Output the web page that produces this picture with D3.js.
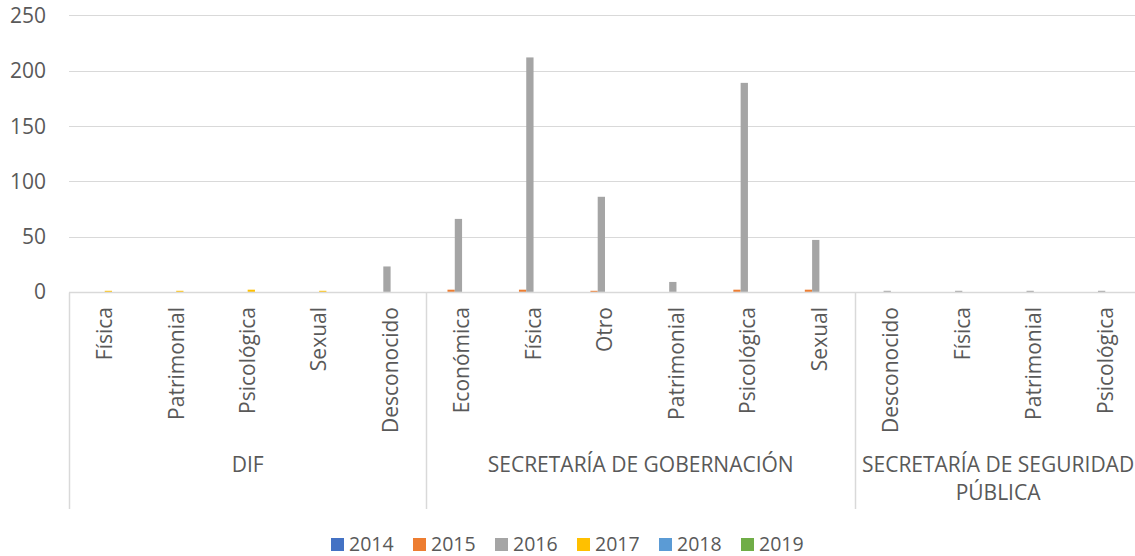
<!DOCTYPE html>
<html>
<head>
<meta charset="utf-8">
<script src="https://cdn.jsdelivr.net/npm/d3@7"></script>
<style>
  html, body { margin: 0; padding: 0; background: #fff; }
  svg { display: block; }
  text { font-family: "Open Sans", "Noto Sans", sans-serif; fill: #595959; }
</style>
</head>
<body>
<svg id="chart" width="1135" height="556"></svg>
<script>
// ---- data ----
const groups = ["DIF", "SECRETARÍA DE GOBERNACIÓN", "SECRETARÍA DE SEGURIDAD PÚBLICA"];
const groupLines = [["DIF"], ["SECRETARÍA DE GOBERNACIÓN"], ["SECRETARÍA DE SEGURIDAD", "PÚBLICA"]];
const categoryGroup = [0, 0, 0, 0, 0, 1, 1, 1, 1, 1, 1, 2, 2, 2, 2];
const categoryLabels = ["Física", "Patrimonial", "Psicológica", "Sexual", "Desconocido",
  "Económica", "Física", "Otro", "Patrimonial", "Psicológica", "Sexual",
  "Desconocido", "Física", "Patrimonial", "Psicológica"];
const years = ["2014", "2015", "2016", "2017", "2018", "2019"];
const colors = ["#4472C4", "#ED7D31", "#A5A5A5", "#FFC000", "#5B9BD5", "#70AD47"];
const v2014 = [0, 0, 0, 0, 0, 0, 0, 0, 0, 0, 0, 0, 0, 0, 0];
const v2015 = [0, 0, 0, 0, 0, 2, 2, 1, 0, 2, 2, 0, 0, 0, 0];
const v2016 = [0, 0, 0, 0, 23, 66, 212, 86, 9, 189, 47, 1, 1, 1, 1];
const v2017 = [1, 1, 2, 1, 0, 0, 0, 0, 0, 0, 0, 0, 0, 0, 0];
const v2018 = [0, 0, 0, 0, 0, 0, 0, 0, 0, 0, 0, 0, 0, 0, 0];
const v2019 = [0, 0, 0, 0, 0, 0, 0, 0, 0, 0, 0, 0, 0, 0, 0];
const seriesValues = [v2014, v2015, v2016, v2017, v2018, v2019];
const yTicks = [0, 50, 100, 150, 200, 250];

// ---- layout ----
const svg = d3.select("#chart");
const pLeft = 69, pRight = 1141, pTop = 15.4, pBase = 291.9;
const grid = "#D9D9D9";
const fs = "21px";

const x = d3.scaleBand().domain(d3.range(categoryLabels.length)).range([pLeft, pRight]).paddingInner(0).paddingOuter(0);
const xi = d3.scaleBand().domain(years).range([0, x.bandwidth()]).paddingInner(0).paddingOuter(1.9);
const y = d3.scaleLinear().domain([0, 250]).range([pBase, pTop]);

// gridlines
svg.append("g").selectAll("line").data(yTicks.filter(t => t > 0)).join("line")
  .attr("x1", pLeft).attr("x2", 1135)
  .attr("y1", d => Math.round(y(d)) + 0.5).attr("y2", d => Math.round(y(d)) + 0.5)
  .attr("stroke", grid).attr("stroke-width", 1);

// y labels
svg.append("g").selectAll("text").data(yTicks).join("text")
  .attr("x", 46).attr("y", d => y(d)).attr("dy", "0.36em")
  .attr("text-anchor", "end").style("font-size", fs).text(d => d);

// bars
const barData = [];
seriesValues.forEach((arr, si) => arr.forEach((v, ci) => { if (v > 0) barData.push({ si, ci, v }); }));
svg.append("g").selectAll("rect").data(barData).join("rect")
  .attr("x", d => x(d.ci) + xi(years[d.si]))
  .attr("width", xi.bandwidth())
  .attr("y", d => y(d.v))
  .attr("height", d => pBase - y(d.v))
  .attr("fill", d => colors[d.si]);

// category axis
const axisY = Math.round(pBase) + 0.5;
svg.append("line").attr("x1", pLeft).attr("x2", 1135).attr("y1", axisY).attr("y2", axisY)
  .attr("stroke", grid).attr("stroke-width", 1.5);

// group separators
const groupStarts = groups.map((g, gi) => categoryGroup.indexOf(gi));
const groupEnds = groups.map((g, gi) => categoryGroup.lastIndexOf(gi));
const sepX = groupStarts.map(i => x(i));
svg.append("g").selectAll("line").data(sepX).join("line")
  .attr("x1", d => Math.round(d) + 0.5).attr("x2", d => Math.round(d) + 0.5)
  .attr("y1", axisY).attr("y2", 509)
  .attr("stroke", grid).attr("stroke-width", 1.5);

// category labels
svg.append("g").selectAll("text").data(categoryLabels).join("text")
  .attr("transform", (d, i) => `translate(${x(i) + x.bandwidth() / 2},307) rotate(-90)`)
  .attr("dy", "0.35em").attr("text-anchor", "end")
  .style("font-size", fs).text(d => d);

// group labels
groups.forEach((g, gi) => {
  const cx = (x(groupStarts[gi]) + x(groupEnds[gi]) + x.bandwidth()) / 2;
  const t = svg.append("text").attr("text-anchor", "middle").style("font-size", fs);
  groupLines[gi].forEach((line, li) => {
    t.append("tspan").attr("x", cx).attr("y", 472 + li * 28).text(line);
  });
});

// legend
const legendX = [331, 413, 495, 577, 659, 741];
const lg = svg.append("g").selectAll("g").data(years).join("g")
  .attr("transform", (d, i) => `translate(${legendX[i]},538)`);
lg.append("rect").attr("width", 13).attr("height", 13).attr("fill", (d, i) => colors[i]);
lg.append("text").attr("x", 18).attr("y", 12.5).style("font-size", "19.5px").text(d => d);
</script>
</body>
</html>
